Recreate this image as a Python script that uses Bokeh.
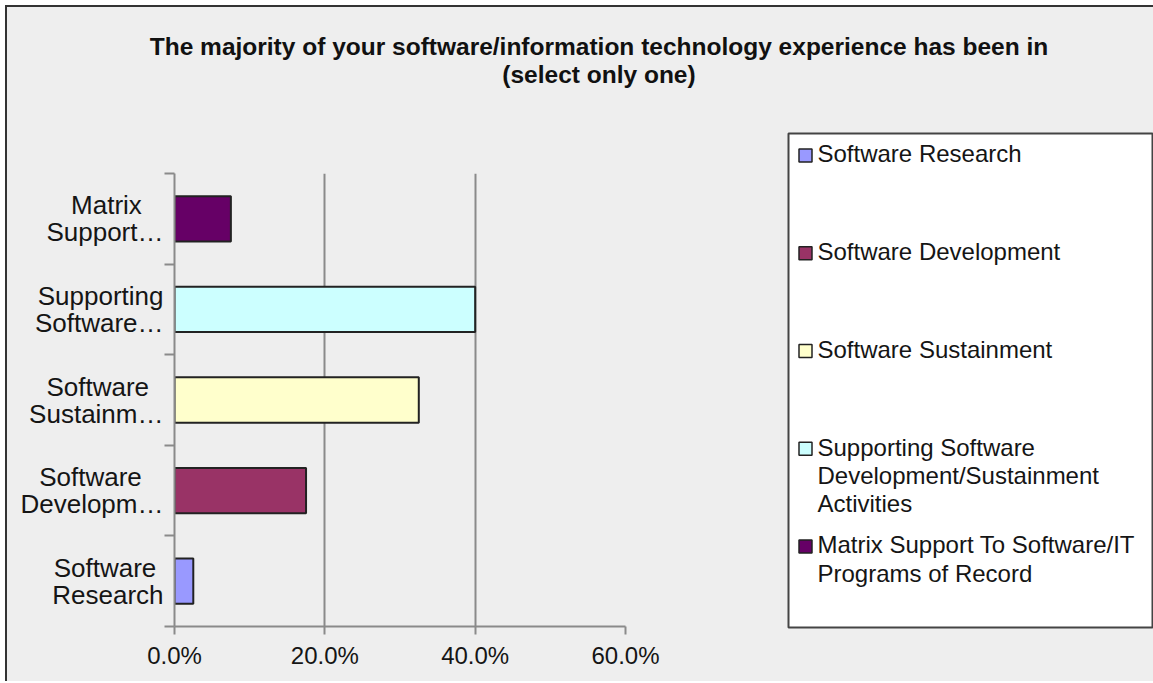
from bokeh.plotting import figure
from bokeh.layouts import column, row
from bokeh.models import ColumnDataSource, Range1d, FixedTicker, NumeralTickFormatter, Div
from bokeh.core.properties import value
from bokeh.embed import file_html
from bokeh.resources import INLINE

# ---- data ----
categories = [
    "Software Research",
    "Software Development",
    "Software Sustainment",
    "Supporting Software Development/Sustainment Activities",
    "Matrix Support To Software/IT Programs of Record",
]
values = [0.025, 0.175, 0.325, 0.400, 0.075]
axis_labels = [
    "Software\nResearch",
    "Software\nDevelopm\u2026",
    "Software\nSustainm\u2026",
    "Supporting\nSoftware\u2026",
    "Matrix\nSupport\u2026",
]
legend_labels = [
    "Software Research",
    "Software Development",
    "Software Sustainment",
    "Supporting Software\nDevelopment/Sustainment\nActivities",
    "Matrix Support To Software/IT\nPrograms of Record",
]
colors = ["#9999FF", "#993366", "#FFFFCC", "#CCFFFF", "#660066"]
x_ticks = [0.0, 0.2, 0.4, 0.6]
title_lines = [
    "The majority of your software/information technology experience has been in",
    "(select only one)",
]

# approximate Arial/Liberation Sans advance widths, used only to centre the
# lines of the wrapped category labels (Bokeh right-aligns them on a left axis)
_W = {"M": 833, "a": 556, "t": 278, "r": 333, "i": 222, "x": 500, "S": 667,
      "u": 556, "p": 556, "o": 556, "n": 556, "g": 556, "f": 278, "w": 722,
      "e": 556, "R": 722, "s": 500, "c": 500, "h": 556, "D": 722, "v": 500,
      "l": 222, "m": 833, "\u2026": 1000}


def centred(label):
    lines = label.split("\n")
    widths = [sum(_W.get(ch, 556) for ch in ln) for ln in lines]
    wmax = max(widths)
    out = []
    for ln, w in zip(lines, widths):
        pad = int(round((wmax - w) / 2 / 278))
        out.append(ln + "\u00a0" * pad)
    return "\n".join(out)


positions = list(range(len(categories)))
boundaries = [i - 0.5 for i in range(len(categories) + 1)]

source = ColumnDataSource(dict(y=positions, value=values, color=colors,
                               legend=legend_labels, category=categories))

FONT = "Liberation Sans"
GRAY = "#8A8A8A"
TXT = "#151515"
BG = "#EEEEEE"


def no_frame_align(fig):
    try:
        fig.frame_align = False
    except Exception:
        pass


# ---------------- main chart ----------------
p = figure(width=780, height=574, output_backend="svg", toolbar_location=None,
           x_range=Range1d(0, 0.6), y_range=Range1d(-0.5, len(categories) - 0.5),
           min_border_left=167, min_border_right=162, min_border_top=66,
           min_border_bottom=55)
no_frame_align(p)
p.background_fill_color = BG
p.border_fill_color = BG
p.outline_line_color = None

p.hbar(y="y", right="value", left=0, height=0.5, source=source,
       fill_color="color", line_color="#222222", line_width=2)

# x axis
p.xaxis.ticker = FixedTicker(ticks=x_ticks)
p.xaxis.formatter = NumeralTickFormatter(format="0.0%")
p.xaxis.axis_line_color = GRAY
p.xaxis.axis_line_width = 2
p.xaxis.major_tick_line_color = GRAY
p.xaxis.major_tick_line_width = 2
p.xaxis.major_tick_out = 8
p.xaxis.major_tick_in = 0
p.xaxis.minor_tick_line_color = None
p.xaxis.major_label_standoff = 7
p.xaxis.major_label_text_font = FONT
p.xaxis.major_label_text_font_size = "24px"
p.xaxis.major_label_text_color = TXT

# y axis: labels at band centres, ticks at band boundaries
p.yaxis.ticker = FixedTicker(ticks=positions, minor_ticks=boundaries)
p.yaxis.major_label_overrides = {pos: centred(lab) for pos, lab in zip(positions, axis_labels)}
p.yaxis.axis_line_color = GRAY
p.yaxis.axis_line_width = 2
p.yaxis.major_tick_line_color = None
p.yaxis.major_tick_out = 0
p.yaxis.major_tick_in = 0
p.yaxis.minor_tick_line_color = GRAY
p.yaxis.minor_tick_line_width = 2
p.yaxis.minor_tick_out = 10
p.yaxis.minor_tick_in = 0
p.yaxis.major_label_standoff = 1
p.yaxis.major_label_text_font = FONT
p.yaxis.major_label_text_font_size = "26px"
p.yaxis.major_label_text_color = TXT
p.yaxis.major_label_text_line_height = 0.9

# grid
p.xgrid.ticker = FixedTicker(ticks=x_ticks)
p.xgrid.grid_line_color = GRAY
p.xgrid.grid_line_width = 2
p.ygrid.visible = False

# ---------------- legend box ----------------
n = len(categories)
lf = figure(width=366, height=574, output_backend="svg", toolbar_location=None,
            x_range=Range1d(-17, 348), y_range=Range1d(n - 1 + 0.829, -0.225),
            x_axis_type=None, y_axis_type=None,
            min_border_left=1, min_border_right=0, min_border_top=26,
            min_border_bottom=54)
no_frame_align(lf)
lf.background_fill_color = "white"
lf.border_fill_color = BG
lf.outline_line_color = "#444444"
lf.outline_line_width = 2
lf.xgrid.visible = False
lf.ygrid.visible = False

lf.scatter(x=0, y="y", marker="square", size=13, source=source,
           fill_color="color", line_color="#222222", line_width=1.5)
lf.text(x=0, y="y", text="legend", source=source, x_offset=12, y_offset=-15,
        text_align="left", text_baseline="top", text_font=value(FONT),
        text_font_size="24px", text_line_height=1.04, text_color=TXT)

# ---------------- title ----------------
title_html = ('<div style="position:relative; left:19px; top:26px;">'
              + title_lines[0] + "<br>" + title_lines[1] + "</div>")
title = Div(text=title_html, width=1146, height=100, margin=0,
            styles={"font-family": "Liberation Sans", "font-weight": "bold",
                    "font-size": "24.5px", "line-height": "28px", "color": "#111111",
                    "text-align": "center", "background-color": BG})

layout = column(title, row(p, column(lf)))
layout.styles = {"border-left": "2px solid #333333", "border-top": "2px solid #333333",
                 "margin-left": "5px", "margin-top": "5px", "background-color": BG}

open("out.html", "w").write(file_html(layout, INLINE))
